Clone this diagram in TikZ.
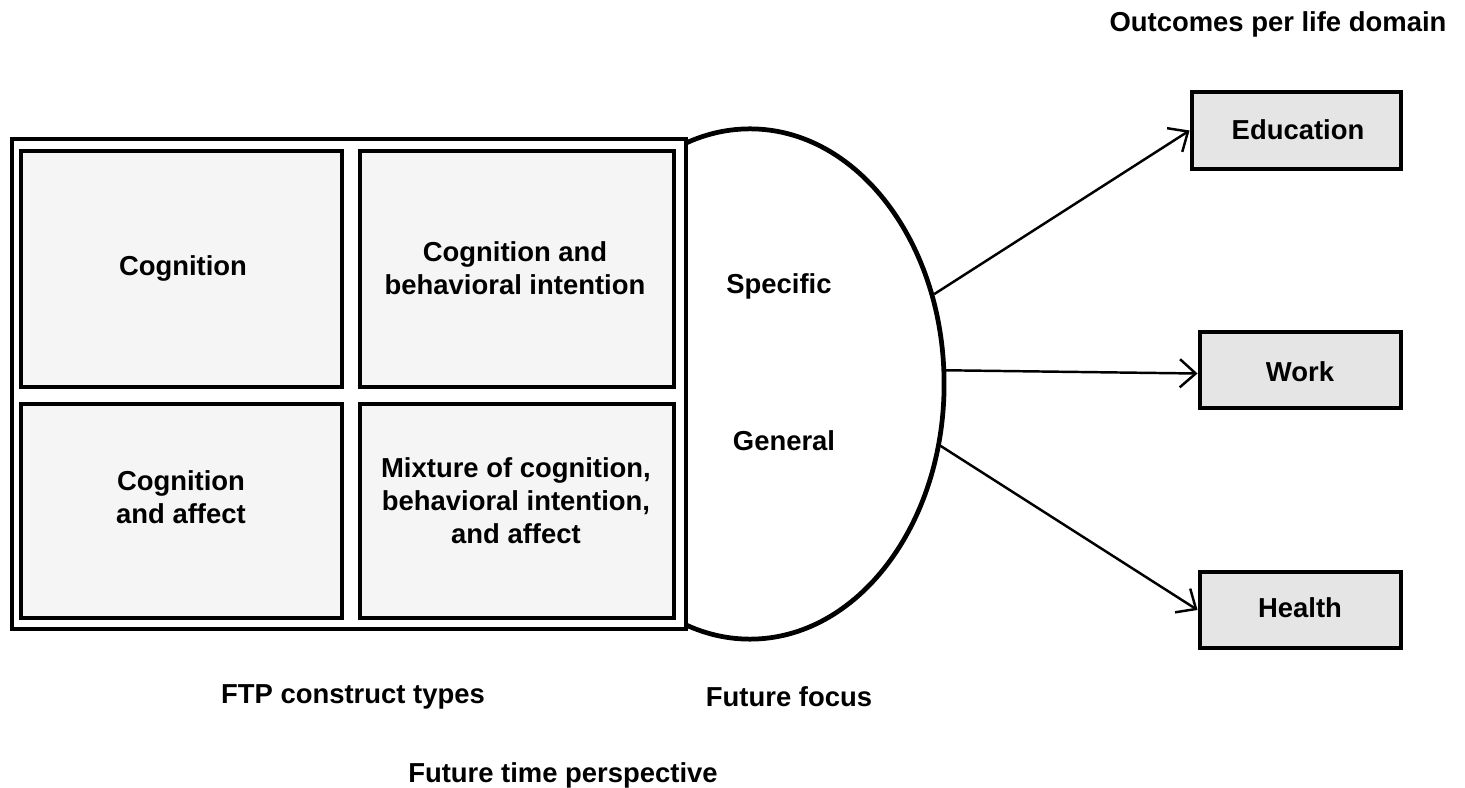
\documentclass[tikz,border=0pt]{standalone}
\usepackage{fontspec}
\setmainfont{Liberation Sans}
\usetikzlibrary{shapes.geometric, arrows.meta}

\tikzset{
  ftpbox/.style={draw, line width=1.35pt, fill=black!4, inner sep=0pt},
  outbox/.style={draw, line width=1.35pt, fill=black!10, inner sep=0pt},
  link/.style={line width=0.7pt, -{Straight Barb[length=4.5pt, width=8pt]}}
}

\begin{document}
\begin{tikzpicture}[x=0.01cm, y=-0.01cm, font=\fontsize{7.8}{9.4}\selectfont\bfseries]
      \useasboundingbox (0,0) rectangle (1465,788);
      % FTP construct types:
      \draw[line width=1.35pt] (12,139) rectangle (686,629);
      \node[ftpbox, minimum width=3.21cm, minimum height=2.36cm] (cogbox) at (181.5,269) {};
      \node[ftpbox, minimum width=3.14cm, minimum height=2.36cm] (intbox) at (517,269) {};
      \node[ftpbox, minimum width=3.21cm, minimum height=2.14cm] (affbox) at (181.5,511) {};
      \node[ftpbox, minimum width=3.14cm, minimum height=2.14cm] (mixbox) at (517,511) {};
      \node (cog) at (183,268) {Cognition};
      \node[align=center] (int) at (515,268) {Cognition and\\behavioral intention};
      \node[align=center] (aff) at (181,497) {Cognition\\and affect};
      \node[align=center] (mix) at (516,500.5) {Mixture of cognition,\\behavioral intention,\\and affect};
      % Future focus:
      \begin{scope}
        \clip (687,0) rectangle (1000,788);
        \node[ellipse, draw, line width=1.35pt, inner sep=0pt, minimum width=3.88cm, minimum height=5.1cm] (focus) at (750,384) {};
      \end{scope}
      \node (spec) at (779,286) {Specific};
      \node (gen) at (784,441) {General};
      % Outcomes:
      \node[outbox, minimum width=2.09cm, minimum height=0.77cm] (edu) at (1296.5,130.5) {};
      \node[outbox, minimum width=2.01cm, minimum height=0.76cm] (work) at (1300.5,370) {};
      \node[outbox, minimum width=2.01cm, minimum height=0.76cm] (health) at (1300.5,610) {};
      \node (edut) at (1298,130) {Education};
      \node (workt) at (1300,372) {Work};
      \node (healtht) at (1300,608) {Health};
      \draw[link] (focus.26) -- (edu.west);
      \draw[link] (focus.4) -- ([yshift=-1pt]work.west);
      \draw[link] (focus.-18) -- (health.west);
      % Titles:
      \node (outcomes) at (1278,24) {Outcomes per life domain};
      \node (types) at (353,697) {FTP construct types};
      \node (ff) at (789,697) {Future focus};
      \node (ftp) at (563,775) {Future time perspective};
\end{tikzpicture}
\end{document}
